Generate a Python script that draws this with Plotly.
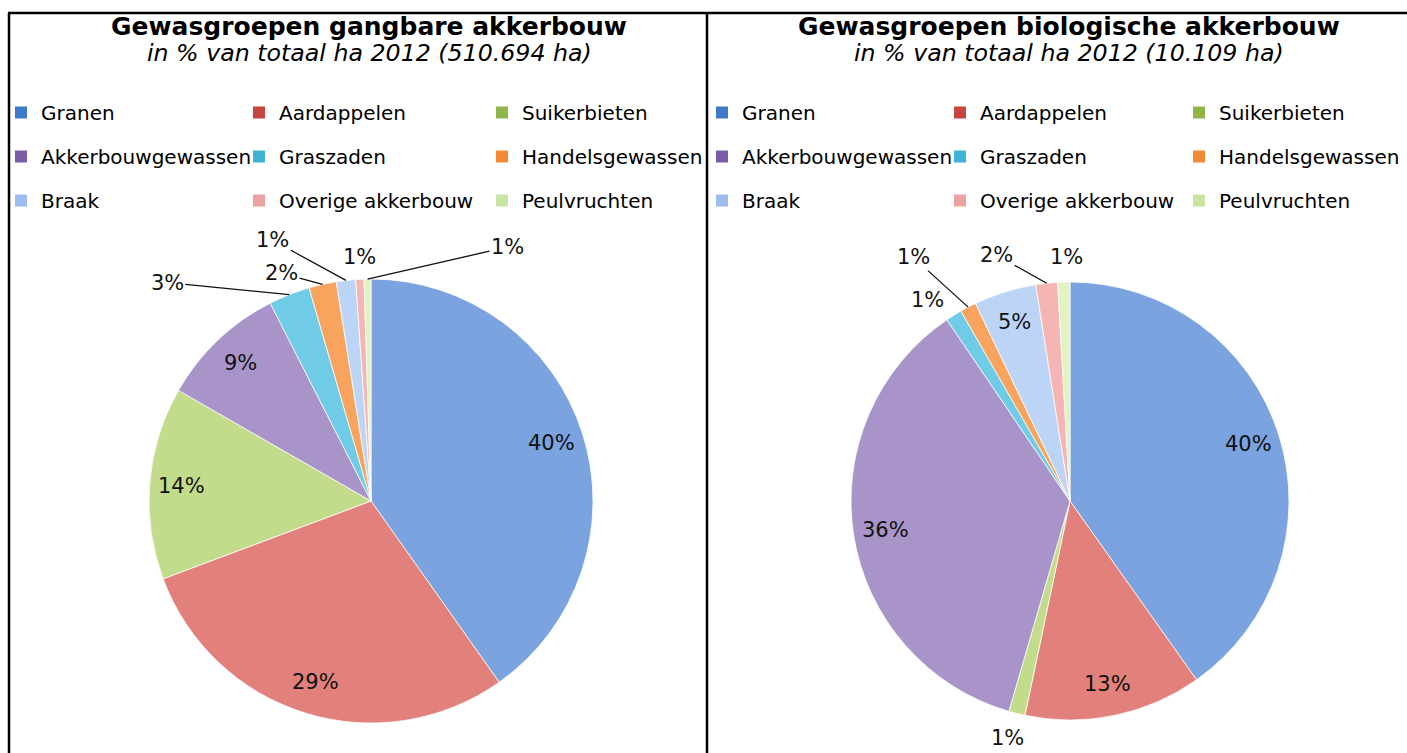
import math
import plotly.graph_objects as go

# ---------------- data ----------------
categories = [
    "Granen", "Aardappelen", "Suikerbieten",
    "Akkerbouwgewassen", "Graszaden", "Handelsgewassen",
    "Braak", "Overige akkerbouw", "Peulvruchten",
]
gangbaar_pct = [40.2, 29.1, 14.0, 9.2, 3.0, 2.0, 1.4, 0.6, 0.5]
biologisch_pct = [40.2, 13.1, 1.2, 36.0, 1.2, 1.2, 4.6, 1.6, 0.9]

titles = ["Gewasgroepen gangbare akkerbouw", "Gewasgroepen biologische akkerbouw"]
subtitles = ["in % van totaal ha 2012 (510.694 ha)", "in % van totaal ha 2012 (10.109 ha)"]

# ---------------- styles ----------------
W, H = 1407, 753
FONT = "DejaVu Sans"


def fx(x):  # screen px -> paper fraction (x)
    return x / W


def fy(y):  # screen px -> paper fraction (y)
    return 1 - y / H


slice_colors = ["#7aa3df", "#e2817b", "#c3dc8c", "#a994c9", "#6fcbe6",
                "#f8a45e", "#bcd5f7", "#f5b5b4", "#e2f3c1"]
legend_colors = ["#3f78c8", "#c8443e", "#8fb548", "#7a5ca8", "#3fb3d3",
                 "#f28a34", "#9dbdee", "#eba3a2", "#c9e5a3"]

# pie geometry in screen pixels
pies = [dict(cx=371, cy=501, r=222), dict(cx=1070, cy=501, r=219)]
title_x = [369, 1069]

# label offsets (pixels) for small slices: (dx, dy, draw leader line)
label_styles = [
    {"Graszaden": (-122, -12, True), "Handelsgewassen": (-41, -11, True),
     "Braak": (-73, -40, True), "Overige akkerbouw": (0, -22, False),
     "Peulvruchten": (140, -32, True)},
    {"Suikerbieten": (-9, 25, False), "Graszaden": (-26, -15, False),
     "Handelsgewassen": (-55, -50, True), "Overige akkerbouw": (-50, -28, True),
     "Peulvruchten": (3, -25, False)},
]
INSIDE_FRAC = 0.855

legend_cols_x = [[1, 239, 482], [702, 940, 1179]]
legend_top = 93

fig = go.Figure()
annotations = []
series = [gangbaar_pct, biologisch_pct]

for p, vals in enumerate(series):
    g = pies[p]
    dom_x = [fx(g["cx"] - g["r"]), fx(g["cx"] + g["r"])]
    dom_y = [fy(g["cy"] + g["r"]), fy(g["cy"] - g["r"])]
    fig.add_trace(go.Pie(
        labels=categories, values=vals, sort=False, direction="clockwise",
        rotation=0, textinfo="none", showlegend=False, hoverinfo="label+percent",
        domain=dict(x=dom_x, y=dom_y),
        marker=dict(colors=slice_colors, line=dict(color="rgba(255,255,255,0.75)", width=1)),
    ))
    # geometry as plotly computes it (figure pixels)
    cx = W * (dom_x[0] + dom_x[1]) / 2
    cy = H * (1 - (dom_y[0] + dom_y[1]) / 2)
    r = min(W * (dom_x[1] - dom_x[0]), H * (dom_y[1] - dom_y[0])) / 2
    total = sum(vals)
    cum = 0.0
    for cat, v in zip(categories, vals):
        theta = 2 * math.pi * (cum + v / 2) / total
        cum += v
        txt = f"{int(v / total * 100 + 0.5)}%"
        st = label_styles[p].get(cat)
        lab_font = dict(family=FONT, size=21, color="#111")
        if st is None:
            px = cx + INSIDE_FRAC * r * math.sin(theta)
            py = cy - INSIDE_FRAC * r * math.cos(theta)
            annotations.append(dict(x=px / W, y=1 - py / H, xref="paper", yref="paper",
                                    text=txt, showarrow=False, xanchor="center",
                                    yanchor="middle", font=lab_font))
        else:
            px = cx + r * math.sin(theta)
            py = cy - r * math.cos(theta)
            dx, dy, line = st
            annotations.append(dict(x=px / W, y=1 - py / H, xref="paper", yref="paper",
                                    text=txt, showarrow=True, ax=dx, ay=dy,
                                    xanchor="center", yanchor="middle",
                                    arrowhead=0, arrowwidth=1.3, standoff=0,
                                    arrowcolor="#111" if line else "rgba(0,0,0,0)",
                                    font=lab_font))

    # titles
    annotations.append(dict(x=fx(title_x[p]), y=fy(27), xref="paper", yref="paper",
                            text=f"<b>{titles[p]}</b>", showarrow=False,
                            xanchor="center", yanchor="middle",
                            font=dict(family=FONT, size=25, color="black")))
    annotations.append(dict(x=fx(title_x[p]), y=fy(53), xref="paper", yref="paper",
                            text=f"<i>{subtitles[p]}</i>", showarrow=False,
                            xanchor="center", yanchor="middle",
                            font=dict(family=FONT, size=23.7, color="black")))

# legends: one legend per column, entries drawn from the category list
legend_layout = {}
for p in range(2):
    for c in range(3):
        idx = p * 3 + c
        lid = "legend" if idx == 0 else f"legend{idx + 1}"
        for i, cat in enumerate(categories):
            if i % 3 != c:
                continue
            fig.add_trace(go.Scatter(
                x=[None], y=[None], mode="markers", name=cat,
                marker=dict(symbol="square", size=12, color=legend_colors[i]),
                legend=lid, legendgroup=f"{p}-{cat}", showlegend=True, hoverinfo="skip",
            ))
        legend_layout[lid] = dict(
            x=fx(legend_cols_x[p][c]), y=fy(legend_top), xanchor="left", yanchor="top",
            orientation="v", traceorder="grouped", tracegroupgap=15,
            bgcolor="rgba(0,0,0,0)", font=dict(family=FONT, size=20, color="black"),
            itemclick=False, itemdoubleclick=False,
        )

line_style = dict(color="black", width=2.5)
shapes = [
    dict(type="line", xref="paper", yref="paper", x0=fx(8), x1=1.0, y0=fy(13), y1=fy(13),
         line=line_style),
    dict(type="line", xref="paper", yref="paper", x0=fx(9), x1=fx(9), y0=0, y1=fy(13),
         line=line_style),
    dict(type="line", xref="paper", yref="paper", x0=fx(707), x1=fx(707), y0=0, y1=fy(13),
         line=line_style),
]

fig.update_layout(
    width=W, height=H, margin=dict(l=0, r=0, t=0, b=0),
    paper_bgcolor="white", plot_bgcolor="white",
    xaxis=dict(visible=False), yaxis=dict(visible=False),
    annotations=annotations, shapes=shapes,
    font=dict(family=FONT),
    **legend_layout,
)

# remove the browser's default body margin so the figure fills the window exactly
fig.write_html(
    "out.html",
    config={"displayModeBar": False},
    post_script="document.body.style.margin='0';document.body.style.overflow='hidden';",
)
